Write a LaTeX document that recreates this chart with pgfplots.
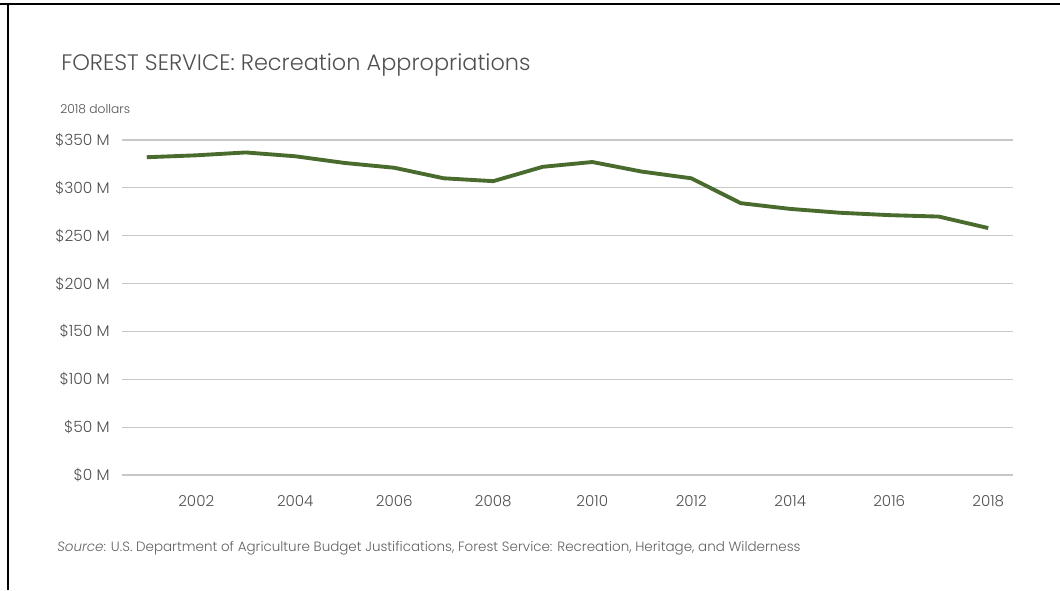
\documentclass[border=0pt]{standalone}
\usepackage{pgfplots}
\pgfplotsset{compat=1.18}
\usepackage{fontspec}
\setmainfont{Poppins}[UprightFont={* Light}, ItalicFont={* Light Italic}]
\definecolor{linegreen}{RGB}{74,107,46}
\definecolor{gridgray}{RGB}{200,200,200}
\definecolor{txtgray}{RGB}{80,80,80}
\begin{document}
\begin{tikzpicture}
\useasboundingbox (0,0) rectangle (795pt,442.5pt);
\draw[black, line width=1.5pt] (0,439.5pt) -- (795pt,439.5pt);
\draw[black, line width=1.5pt] (6pt,0) -- (6pt,440.25pt);
\node[anchor=base west, inner sep=0pt, text=txtgray, font=\fontsize{16.8}{20}\selectfont] at (45.75pt,389.5pt) {FOREST SERVICE: Recreation Appropriations};
\node[anchor=base west, inner sep=0pt, text=txtgray, font=\fontsize{9.2}{11}\selectfont] at (45pt,357pt) {2018 dollars};
\node[anchor=base west, inner sep=0pt, text=txtgray!90, font=\fontsize{10.1}{12}\selectfont] at (42.75pt,29pt) {\textit{Source}: U.S. Department of Agriculture Budget Justifications, Forest Service: Recreation, Heritage, and Wilderness};
\begin{axis}[
  at={(91.5pt,86.25pt)}, anchor=south west,
  scale only axis, width=668.25pt, height=251.25pt,
  xmin=2000.5, xmax=2018.5, ymin=0, ymax=350,
  axis line style={draw=none},
  xtick={2002,2004,...,2018},
  ytick={0,50,...,350},
  major tick length=0pt,
  ymajorgrids, grid style={gridgray, line width=0.9pt},
  /pgf/number format/assume math mode=true,
  /pgf/number format/set thousands separator={},
  xticklabel style={inner sep=0pt, yshift=-15pt, text=txtgray, font=\fontsize{11.3}{13}\selectfont},
  yticklabel style={inner sep=0pt, anchor=east, xshift=-9pt, text=txtgray, font=\fontsize{11.6}{13}\selectfont},
  yticklabel={\$\pgfmathprintnumber{\tick} M},
  clip=false,
]
\addplot[linegreen, line width=2.9pt, line join=round] coordinates {
(2001,332) (2002,334) (2003,337) (2004,333) (2005,326) (2006,321)
(2007,310) (2008,307) (2009,322) (2010,327) (2011,317) (2012,310)
(2013,284) (2014,278) (2015,274) (2016,271.5) (2017,270) (2018,258)
};
\end{axis}
\end{tikzpicture}
\end{document}
